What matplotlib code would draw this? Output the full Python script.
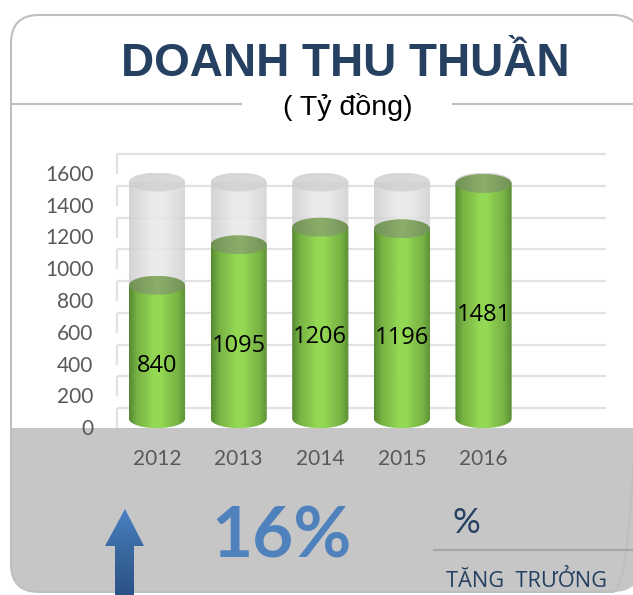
import numpy as np
import matplotlib
matplotlib.use('Agg')
import matplotlib.pyplot as plt
from matplotlib.colors import LinearSegmentedColormap
from matplotlib.patches import Ellipse, FancyBboxPatch, PathPatch, Polygon, Rectangle
from matplotlib.path import Path
from matplotlib.transforms import ScaledTranslation

years = ['2012', '2013', '2014', '2015', '2016']
revenue = [840, 1095, 1206, 1196, 1481]
ghost = [1490, 1490, 1490, 1490, 1490]
y_ticks = [0, 200, 400, 600, 800, 1000, 1200, 1400, 1600]

W, H = 633, 595
BODY_FONT = ['Lato', 'Noto Sans', 'DejaVu Sans']
NAVY = '#254061'

green = LinearSegmentedColormap.from_list(
    'green', ['#558a30', '#78b444', '#84c34b', '#93d953', '#93d953', '#84c34b', '#78b444', '#5a8f34'])
green_top = LinearSegmentedColormap.from_list(
    'green_top', ['#6f9254', '#80a161', '#8cae6a', '#80a161', '#6f9254'])
grey = LinearSegmentedColormap.from_list(
    'grey', ['#cdcdcd', '#dadada', '#e8e8e8', '#e8e8e8', '#dcdcdc', '#cfcfcf'])
grey_top = LinearSegmentedColormap.from_list('grey_top', ['#cfcfcf', '#d3d3d3'])
blue = LinearSegmentedColormap.from_list('blue', ['#4a80c4', '#39689f', '#2b5287'])


def px_axes(fig, left, top, right, bottom):
    return fig.add_axes([left / W, 1 - bottom / H, (right - left) / W, (bottom - top) / H])


def draw_background(fig):
    ax = fig.add_axes([0, 0, 1, 1], zorder=0)
    ax.set_xlim(0, W)
    ax.set_ylim(H, 0)
    ax.axis('off')

    frame = FancyBboxPatch((11, 15), 630, 577, boxstyle='round,pad=0,rounding_size=28',
                           fc='white', ec='none', mutation_aspect=1)
    ax.add_patch(frame)
    panel = Rectangle((11, 428), 630, 170, fc='#c6c6c6', ec='none')
    ax.add_patch(panel)
    panel.set_clip_path(frame)
    border = FancyBboxPatch((11, 15), 630, 577, boxstyle='round,pad=0,rounding_size=28',
                            fc='none', ec='#bfbfbf', lw=1.5)
    ax.add_patch(border)

    ax.plot([11, 241], [103.5, 103.5], color='#bfbfbf', lw=1.5)
    ax.plot([453, 633], [103.5, 103.5], color='#bfbfbf', lw=1.5)
    ax.plot([434, 633], [550, 550], color='#a6a6a6', lw=1.5)

    ax.text(345, 64, 'DOANH THU THUẦN', family='Liberation Sans', weight='bold', fontsize=33,
            color=NAVY, ha='center', va='center')
    ax.text(348, 107, '( Tỷ đồng)', family='Liberation Sans', fontsize=20.5,
            color='black', ha='center', va='center')
    ax.text(282, 537, '16%', family=BODY_FONT, weight='bold', fontsize=51,
            color='#4f81bd', ha='center', va='center')
    ax.text(466, 523, '%', family=BODY_FONT, fontsize=25, color=NAVY, ha='center', va='center')
    ax.text(526, 581, 'TĂNG  TRƯỞNG', family=['Open Sans', 'DejaVu Sans'], fontsize=15.7,
            color=NAVY, ha='center', va='center')

    # Up arrow, cut off by the bottom edge
    arrow = Polygon([(125, 509), (144, 546), (134, 546), (134, 595), (115, 595), (115, 546), (105, 546)],
                    closed=True, fc='none', ec='none')
    ax.add_patch(arrow)
    shade = ax.imshow(np.linspace(0, 1, 128).reshape(-1, 1), cmap=blue, extent=(105, 144, 595, 509),
                      aspect='auto', zorder=3)
    shade.set_clip_path(arrow)
    ax.set_xlim(0, W)
    ax.set_ylim(H, 0)


def cylinder(ax, x, value, width, cap, body_cmap, top_cmap, alpha, zorder):
    t = np.linspace(np.pi, 2 * np.pi, 40)
    xs = x + width / 2 * np.cos(t)
    ys = cap * np.sin(t)
    verts = np.column_stack([xs, ys])
    verts = np.vstack([verts, [x + width / 2, value], [x - width / 2, value], verts[0]])
    outline = PathPatch(Path(verts), fc='none', ec='none', transform=ax.transData)
    ax.add_patch(outline)
    body = ax.imshow(np.linspace(0, 1, 128).reshape(1, -1), cmap=body_cmap, alpha=alpha,
                     extent=(x - width / 2, x + width / 2, -cap, value), aspect='auto', zorder=zorder)
    body.set_clip_path(outline)

    top = Ellipse((x, value), width, 2 * cap, fc='none', ec='none', transform=ax.transData)
    ax.add_patch(top)
    face = ax.imshow(np.linspace(0, 1, 128).reshape(1, -1), cmap=top_cmap, alpha=alpha,
                     extent=(x - width / 2, x + width / 2, value - cap, value + cap),
                     aspect='auto', zorder=zorder + 0.1)
    face.set_clip_path(top)


def draw_chart(fig):
    ax = px_axes(fig, 117, 145, 606, 428)
    ax.patch.set_alpha(0)
    ax.set_zorder(1)
    for side in ax.spines.values():
        side.set_visible(False)

    px_per_unit = 31.75 / 200
    wall = ScaledTranslation(0, 10.6 / fig.dpi, fig.dpi_scale_trans)
    low = ScaledTranslation(0, -8.4 / fig.dpi, fig.dpi_scale_trans)

    # Back wall grid sits up and to the rear of the columns
    wall_x = -0.49
    for v in y_ticks:
        ax.plot([wall_x, 5.5], [v, v], color='#e2e2e2', lw=1.6, zorder=1,
                transform=ax.transData + wall, clip_on=False, solid_capstyle='butt')
        ax.plot([wall_x, wall_x], [v, v - 20 / px_per_unit], color='#e2e2e2', lw=1.6, zorder=1,
                transform=ax.transData + wall, clip_on=False, solid_capstyle='butt')

    width = 56 / 81.5
    cap = 9.5 / px_per_unit
    for i, (g, v) in enumerate(zip(ghost, revenue)):
        cylinder(ax, i, g, width, cap, grey, grey_top, 0.85, 2)
        cylinder(ax, i, v, width, cap, green, green_top, 1, 3)
        ax.annotate(str(v), (i, v / 2), xytext=(0, -10), textcoords='offset points', ha='center', va='center',
                    family='Open Sans', fontsize=17, color='black', zorder=5)

    ax.set_xlim(wall_x, 5.5)
    ax.set_ylim(-9.4 / px_per_unit, (418.6 - 145) / px_per_unit)

    ax.set_yticks(y_ticks)
    ax.set_yticklabels([str(v) for v in y_ticks], family=BODY_FONT, fontsize=15, color='#595959')
    ax.tick_params(axis='y', length=0, pad=17)
    # tick_params rebuilds the label transform, so shift the labels after it
    for label in ax.get_yticklabels():
        label.set_transform(label.get_transform() + low)

    ax.set_xticks(range(len(years)))
    ax.set_xticklabels(years, family=BODY_FONT, fontsize=15, color='#595959')
    ax.tick_params(axis='x', length=0, pad=15)


def main():
    fig = plt.figure(figsize=(W / 100, H / 100), dpi=100)
    draw_background(fig)
    draw_chart(fig)
    fig.savefig('out.png', dpi=100)


if __name__ == '__main__':
    main()
